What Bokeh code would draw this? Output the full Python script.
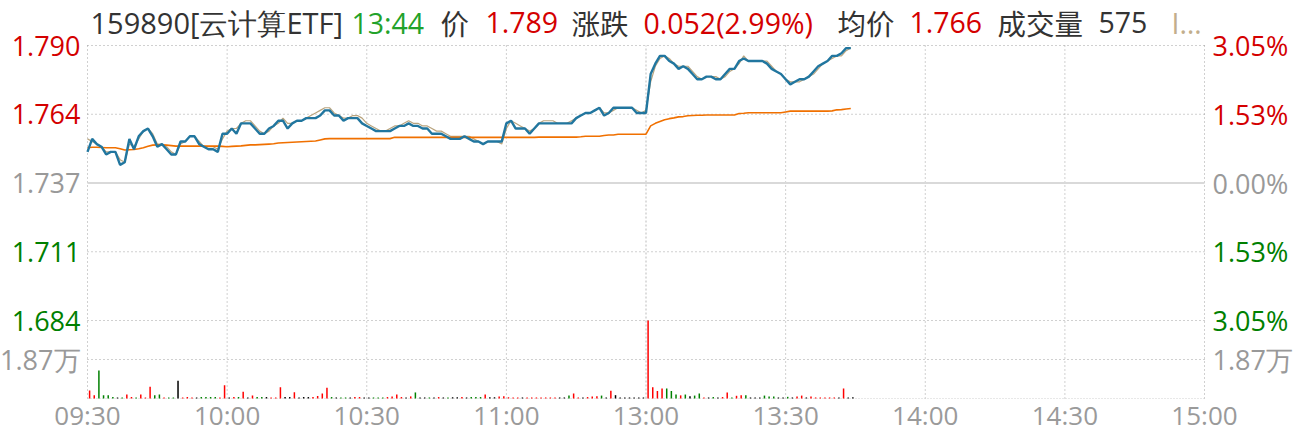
from bokeh.plotting import figure
from bokeh.models import Range1d, Label, ColumnDataSource
from bokeh.embed import file_html
from bokeh.resources import INLINE

# ------------------------------------------------------------------ data
time_ticks = [0, 30, 60, 90, 120, 150, 180, 210, 240]
time_labels = ["09:30", "10:00", "10:30", "11:00", "13:00", "13:30", "14:00", "14:30", "15:00"]

pre_close = 1.737
price_ticks = [1.790, 1.7635, 1.737, 1.7105, 1.684]
price_tick_labels = ["1.790", "1.764", "1.737", "1.711", "1.684"]
pct_tick_labels = ["3.05%", "1.53%", "0.00%", "1.53%", "3.05%"]
tick_tone = ["up", "up", "flat", "down", "down"]
vol_tick = 18700
vol_tick_label = "1.87万"

price = [
    1.749, 1.754, 1.752, 1.751, 1.748, 1.749, 1.749, 1.744, 1.745, 1.754,
    1.750, 1.755, 1.757, 1.758, 1.755, 1.751, 1.752, 1.750, 1.748, 1.748,
    1.753, 1.753, 1.755, 1.755, 1.752, 1.751, 1.750, 1.750, 1.749, 1.756,
    1.756, 1.758, 1.756, 1.760, 1.760, 1.760, 1.758, 1.756, 1.756, 1.758,
    1.759, 1.761, 1.761, 1.758, 1.760, 1.761, 1.761, 1.762, 1.762, 1.762,
    1.763, 1.765, 1.765, 1.763, 1.763, 1.761, 1.762, 1.762, 1.762, 1.760,
    1.759, 1.758, 1.757, 1.757, 1.757, 1.757, 1.758, 1.759, 1.759, 1.760,
    1.759, 1.759, 1.758, 1.758, 1.756, 1.756, 1.756, 1.755, 1.754, 1.754,
    1.754, 1.755, 1.754, 1.753, 1.753, 1.752, 1.753, 1.753, 1.753, 1.753,
    1.760, 1.761, 1.758, 1.758, 1.758, 1.756, 1.758, 1.760, 1.760, 1.760,
    1.760, 1.760, 1.760, 1.760, 1.760, 1.762, 1.763, 1.764, 1.764, 1.765,
    1.766, 1.763, 1.764, 1.766, 1.766, 1.766, 1.766, 1.766, 1.764, 1.764,
    1.764, 1.779, 1.783, 1.786, 1.786, 1.784, 1.783, 1.781, 1.782, 1.781,
    1.779, 1.777, 1.777, 1.778, 1.778, 1.777, 1.777, 1.779, 1.781, 1.781,
    1.784, 1.785, 1.784, 1.784, 1.784, 1.784, 1.783, 1.781, 1.780, 1.779,
    1.777, 1.775, 1.776, 1.777, 1.777, 1.778, 1.780, 1.782, 1.783, 1.784,
    1.786, 1.786, 1.787, 1.789, 1.789,
]

ref_line = [
    1.754, 1.753, 1.752, 1.751, 1.749, 1.749, 1.749, 1.746, 1.745, 1.752,
    1.751, 1.754, 1.757, 1.758, 1.756, 1.752, 1.752, 1.751, 1.749, 1.748,
    1.752, 1.753, 1.755, 1.755, 1.753, 1.751, 1.751, 1.751, 1.750, 1.754,
    1.757, 1.758, 1.758, 1.760, 1.761, 1.761, 1.759, 1.757, 1.756, 1.757,
    1.759, 1.760, 1.762, 1.760, 1.760, 1.761, 1.761, 1.762, 1.763, 1.764,
    1.765, 1.766, 1.766, 1.764, 1.763, 1.762, 1.762, 1.763, 1.763, 1.762,
    1.760, 1.759, 1.758, 1.757, 1.757, 1.758, 1.759, 1.759, 1.760, 1.761,
    1.760, 1.760, 1.759, 1.759, 1.758, 1.757, 1.757, 1.756, 1.755, 1.755,
    1.755, 1.755, 1.755, 1.754, 1.753, 1.752, 1.753, 1.753, 1.753, 1.752,
    1.758, 1.761, 1.760, 1.759, 1.758, 1.757, 1.758, 1.760, 1.761, 1.761,
    1.761, 1.760, 1.760, 1.760, 1.761, 1.762, 1.763, 1.764, 1.764, 1.765,
    1.766, 1.764, 1.764, 1.765, 1.766, 1.766, 1.766, 1.766, 1.765, 1.764,
    1.765, 1.776, 1.782, 1.785, 1.786, 1.785, 1.783, 1.782, 1.782, 1.782,
    1.780, 1.778, 1.777, 1.778, 1.778, 1.778, 1.777, 1.778, 1.780, 1.781,
    1.783, 1.786, 1.784, 1.784, 1.784, 1.784, 1.784, 1.782, 1.780, 1.779,
    1.777, 1.776, 1.776, 1.776, 1.777, 1.778, 1.779, 1.781, 1.783, 1.784,
    1.785, 1.786, 1.786, 1.788, 1.789,
]

avg_price = [
    1.7506, 1.7508, 1.7508, 1.7507, 1.7506, 1.7506, 1.7506, 1.7502, 1.7497, 1.7498,
    1.7499, 1.7502, 1.7506, 1.7512, 1.7516, 1.7517, 1.7517, 1.7516, 1.7514, 1.7512,
    1.7512, 1.7512, 1.7512, 1.7512, 1.7512, 1.7512, 1.7512, 1.7512, 1.7512, 1.7511,
    1.7510, 1.7511, 1.7512, 1.7513, 1.7515, 1.7517, 1.7517, 1.7518, 1.7519, 1.7520,
    1.7521, 1.7524, 1.7525, 1.7526, 1.7527, 1.7528, 1.7529, 1.7530, 1.7531, 1.7532,
    1.7536, 1.7540, 1.7541, 1.7541, 1.7541, 1.7541, 1.7541, 1.7541, 1.7541, 1.7541,
    1.7541, 1.7541, 1.7541, 1.7541, 1.7541, 1.7541, 1.7546, 1.7546, 1.7546, 1.7546,
    1.7546, 1.7546, 1.7546, 1.7546, 1.7546, 1.7546, 1.7546, 1.7546, 1.7546, 1.7546,
    1.7546, 1.7546, 1.7546, 1.7546, 1.7546, 1.7546, 1.7546, 1.7546, 1.7546, 1.7546,
    1.7546, 1.7546, 1.7546, 1.7546, 1.7546, 1.7546, 1.7546, 1.7547, 1.7547, 1.7547,
    1.7547, 1.7547, 1.7547, 1.7547, 1.7547, 1.7547, 1.7548, 1.7550, 1.7550, 1.7550,
    1.7550, 1.7553, 1.7555, 1.7555, 1.7558, 1.7558, 1.7558, 1.7558, 1.7558, 1.7558,
    1.7558, 1.7590, 1.7600, 1.7607, 1.7614, 1.7618, 1.7621, 1.7625, 1.7626, 1.7629,
    1.7630, 1.7631, 1.7631, 1.7632, 1.7632, 1.7632, 1.7632, 1.7632, 1.7632, 1.7632,
    1.7638, 1.7639, 1.7641, 1.7641, 1.7641, 1.7641, 1.7641, 1.7641, 1.7641, 1.7641,
    1.7644, 1.7647, 1.7647, 1.7647, 1.7647, 1.7647, 1.7647, 1.7647, 1.7647, 1.7647,
    1.7648, 1.7652, 1.7653, 1.7655, 1.7657,
]

volume = [
    3800, 1600, 13400, 1600, 1600, 700, 500, 500, 1900, 700,
    500, 1900, 500, 5600, 1600, 1900, 500, 500, 500, 8500,
    500, 700, 500, 500, 700, 700, 700, 700, 500, 6400,
    500, 700, 700, 3200, 500, 1400, 700, 700, 700, 500,
    500, 5400, 700, 700, 3000, 500, 700, 700, 700, 1200,
    2400, 5100, 700, 500, 500, 500, 500, 700, 700, 500,
    500, 500, 500, 500, 700, 1000, 1900, 700, 500, 1000,
    2900, 500, 500, 500, 500, 700, 500, 500, 600, 600,
    700, 500, 700, 700, 700, 1900, 600, 600, 1000, 1100,
    600, 500, 500, 500, 500, 500, 500, 500, 500, 500,
    500, 500, 500, 1400, 2400, 500, 500, 700, 1000, 1100,
    1400, 500, 3700, 1600, 500, 500, 500, 500, 500, 500,
    37400, 5400, 3600, 4800, 4800, 3600, 1900, 1500, 1900, 1100,
    1400, 2400, 500, 500, 700, 500, 700, 2900, 500, 1300,
    1600, 1600, 500, 500, 500, 1400, 1000, 1000, 500, 500,
    800, 500, 1000, 1400, 500, 1000, 500, 500, 500, 500,
    500, 500, 4800, 500, 575,
]

volume_dir = list(
    "rrggggkgrr" "grrrggrggk" "rrrkggggrr" "krgrkrggkr"
    "rrkkrkkkrr" "rrgkggkrrk" "kgggrrrrkr" "gkkgkrkgkk"
    "rkgggrkkrr" "rrrkrrrrrr" "rkkgrrkrrr" "gkrkkkkkkk"
    "rrrrgggrgk" "ggrkgkrrgr" "rgkkkgggkk" "gkrrkrrrrr"
    "rkrkk"
)

header_texts = ["159890[云计算ETF]", "13:44", "价", "1.789", "涨跌", "0.052(2.99%)",
                "均价", "1.766", "成交量", "575", "I…"]
header_tones = ["dark", "time", "dark", "up", "dark", "up", "dark", "up", "dark", "dark", "note"]

# ------------------------------------------------------------------ layout / style
FRAME_W, FRAME_H = 1117, 353          # plotting area in px
PRICE_H, VOL_H = 275, 78              # price part / volume part heights in px
BORDER_L, BORDER_R, BORDER_T, BORDER_B = 87, 100, 45, 36
# page x and font size of header pieces
header_px = [90, 351, 440, 485, 571, 643, 837, 909, 997, 1098, 1171]
header_size = ["29px"] + ["28.5px"] * 10

tone_color = {"up": "#d40000", "down": "#008000", "flat": "#999999",
              "dark": "#333333", "time": "#22a22a", "note": "#c2ae8c"}
bar_color = {"r": "#ff0000", "g": "#008000", "k": "#000000"}

top, bottom = price_ticks[0], price_ticks[-1]
ppx = (top - bottom) / PRICE_H          # price per pixel
y_lo = bottom - VOL_H * ppx             # price value at the volume baseline
vmax = max(volume)
vpx = vmax / VOL_H                      # volume per pixel
xpx = FRAME_W / 240.0                   # pixels per minute

W = BORDER_L + FRAME_W + BORDER_R
H = BORDER_T + FRAME_H + BORDER_B

p = figure(width=W, height=H,
           x_range=Range1d(-BORDER_L / xpx, 240 + BORDER_R / xpx),
           y_range=Range1d(y_lo - BORDER_B * ppx, top + BORDER_T * ppx),
           x_axis_location=None, y_axis_location=None,
           min_border=0, min_border_left=0, min_border_right=0,
           min_border_top=0, min_border_bottom=0,
           output_backend="svg", toolbar_location=None)
p.extra_y_ranges = {"vol": Range1d(-BORDER_B * vpx, (FRAME_H + BORDER_T) * vpx)}
p.grid.visible = False
p.outline_line_color = None
p.background_fill_color = "white"
p.border_fill_color = "white"

GRID = "#a0a0a0"
# vertical grid lines
vx = [t for t in time_ticks if t != 120]
p.segment(x0=vx, y0=[y_lo] * len(vx), x1=vx, y1=[top] * len(vx),
          line_color=GRID, line_width=1, line_dash="1 3")
p.segment(x0=[120], y0=[y_lo], x1=[120], y1=[top], line_color="#dddddd",
          line_width=2, line_dash="2 2")
# horizontal grid lines
hy = [v for v, t in zip(price_ticks, tick_tone) if t != "flat"]
p.segment(x0=[0] * len(hy), y0=hy, x1=[240] * len(hy), y1=hy,
          line_color=GRID, line_width=1, line_dash="1 3")
p.segment(x0=[0], y0=[pre_close], x1=[240], y1=[pre_close], line_color="#d9d9d9", line_width=2)
p.segment(x0=[0], y0=[vol_tick], x1=[240], y1=[vol_tick], line_color=GRID, line_width=1,
          line_dash="1 3", y_range_name="vol")
p.segment(x0=[0], y0=[0], x1=[240], y1=[0], line_color="#d0d0d0", line_width=1,
          line_dash="1 2", y_range_name="vol")

# volume bars
idx = list(range(len(volume)))
vsrc = ColumnDataSource(dict(x=[i + 0.45 for i in idx], y0=[0] * len(volume), y1=volume,
                             c=[bar_color[d] for d in volume_dir]))
p.segment(x0="x", y0="y0", x1="x", y1="y1", color="c", line_width=1.5, source=vsrc,
          y_range_name="vol")

# lines
pidx = list(range(len(price)))
p.line(pidx, ref_line, line_color="#b9a47e", line_width=1.2)
p.line(pidx, avg_price, line_color="#f07000", line_width=1.6)
p.line(pidx, price, line_color="#21769f", line_width=2.4)

FONT = "Open Sans"
CJK = "Noto Sans CJK SC"


def add_label(x, y, text, color, align, font=FONT, size="27px", y_range_name="default"):
    p.add_layout(Label(x=x, y=y, text=text, text_color=color, text_align=align,
                       text_baseline="middle", text_font=font, text_font_size=size,
                       y_range_name=y_range_name))


# y labels left / right
for v, lab, pl, tone in zip(price_ticks, price_tick_labels, pct_tick_labels, tick_tone):
    add_label(-7 / xpx, v, lab, tone_color[tone], "right")
    add_label(240 + 8 / xpx, v, pl, tone_color[tone], "left")
add_label(-7 / xpx, vol_tick, vol_tick_label, tone_color["flat"], "right",
          y_range_name="vol")
add_label(240 + 8 / xpx, vol_tick, vol_tick_label, tone_color["flat"], "left",
          y_range_name="vol")

# x labels
for t, lab in zip(time_ticks, time_labels):
    add_label(t, y_lo - 16 * ppx, lab, "#9a9a9a", "center", size="26px")

# header
for px_, txt, tone, fs in zip(header_px, header_texts, header_tones, header_size):
    only_cjk = all(ord(ch) > 0x2E80 for ch in txt)
    add_label((px_ - BORDER_L) / xpx, top + 23 * ppx, txt, tone_color[tone], "left",
              font=(CJK if only_cjk else FONT), size=fs)

open("out.html", "w").write(file_html(p, INLINE))
